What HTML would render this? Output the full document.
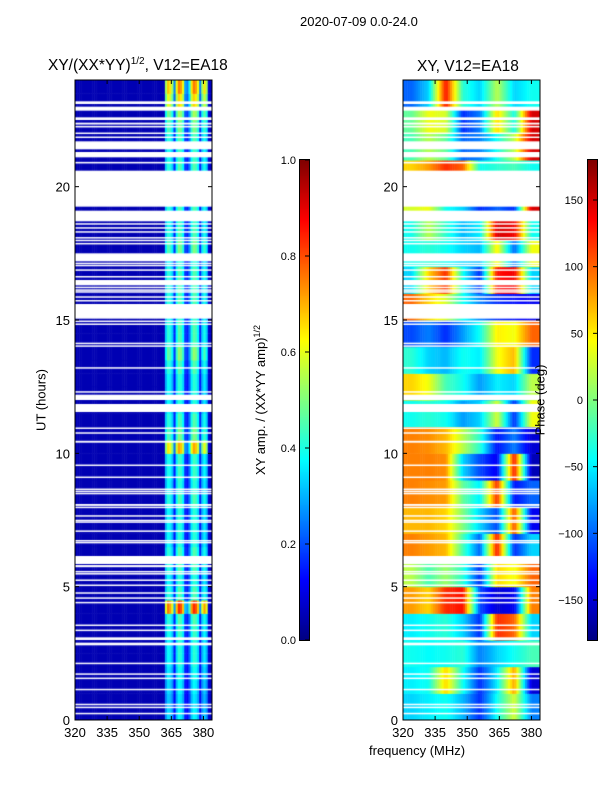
<!DOCTYPE html>
<html><head><meta charset="utf-8">
<style>
body{margin:0;background:#fff;width:600px;height:800px;overflow:hidden;position:relative;font-family:"Liberation Sans",sans-serif;color:#000}
.abs{position:absolute}
canvas{position:absolute}
</style></head><body>
<div class="abs" style="left:300px;top:14px;font-size:13px">2020-07-09 0.0-24.0</div>
<div class="abs" style="left:48px;top:56px;font-size:15.5px">XY/(XX*YY)<sup style="font-size:10px">1/2</sup>, V12=EA18</div>
<div class="abs" style="left:417px;top:58px;font-size:15.5px">XY, V12=EA18</div>
<canvas id="amp" width="137" height="640" style="left:75px;top:80px"></canvas>
<canvas id="ph" width="137" height="640" style="left:403px;top:80px"></canvas>
<canvas id="cb1" width="9" height="480" style="left:300px;top:160px;outline:1px solid #000"></canvas>
<canvas id="cb2" width="9" height="480" style="left:588px;top:160px;outline:1px solid #000"></canvas>
<svg id="ov" width="600" height="800" style="position:absolute;left:0;top:0"></svg>
<div class="abs" style="left:41px;top:400px;transform:translate(-50%,-50%) rotate(-90deg);font-size:13px;white-space:nowrap">UT (hours)</div>
<div class="abs" style="left:260px;top:400px;transform:translate(-50%,-50%) rotate(-90deg);font-size:13px;white-space:nowrap">XY amp. / (XX*YY amp)<sup style="font-size:9px">1/2</sup></div>
<div class="abs" style="left:540px;top:400px;transform:translate(-50%,-50%) rotate(-90deg);font-size:13px;white-space:nowrap">Phase (deg)</div>
<div class="abs" style="left:369px;top:743px;font-size:13px">frequency (MHz)</div>
<script>
// ---- data ----
const freqTicks=[320,335,350,365,380];
const timeTicks=[0,5,10,15,20];
const ampTicks=[0.0,0.2,0.4,0.6,0.8,1.0];
const phaseTicks=[-150,-100,-50,0,50,100,150];
// amplitude channel profile, 1 MHz channels 320..383
const ampProfile=[0.05,0.05,0.05,0.05,0.05,0.05,0.05,0.05,0.05,0.05,0.05,0.05,0.05,0.05,0.05,0.05,
0.05,0.05,0.05,0.05,0.05,0.05,0.05,0.05,0.05,0.05,0.05,0.05,0.05,0.05,0.05,0.05,
0.05,0.05,0.05,0.05,0.05,0.05,0.05,0.05,0.05,0.05,0.30,0.38,0.36,0.30,0.14,0.34,0.42,0.40,
0.34,0.16,0.14,0.22,0.36,0.42,0.40,0.34,0.14,0.30,0.36,0.30,0.08,0.06];
// half-hour gain, index 0 = 0.0-0.5 h
const ampGain=[0.9,0.85,0.9,0.95,1.0,1.0,1.05,1.1,2.0,1.1,1.0,1.1,1.1,1.0,1.0,1.0,1.1,1.0,1.05,1.05,1.7,1.2,1.1,1.0,
1.0,1.0,1.1,1.25,1.1,1.1,1.05,1.1,1.1,1.1,1.0,1.2,1.1,1.05,1.1,1.0,1.1,1.1,1.05,1.1,1.2,1.3,1.6,1.8];
// phase (deg): rows = hours 0..23, cols = 8 MHz blocks centred 324..380
const phaseGrid=[
[-60,-50,-40,-70,-120,-40,30,-90],
[-50,-40,60,-40,-120,-50,80,-150],
[-40,-45,-40,-30,-90,-60,-40,-20],
[-50,-40,-30,-60,-120,120,100,-60],
[80,60,120,130,-110,-150,-140,90],
[20,-20,10,-30,-120,60,40,100],
[90,80,70,-20,-100,130,-120,-60],
[70,70,60,0,-60,-110,110,-140],
[90,85,80,-10,-50,120,-130,-100],
[90,90,85,-60,-110,-140,130,-160],
[90,85,70,20,-30,-130,-90,-150],
[-40,-30,-40,-80,-60,30,-120,40],
[60,40,-20,-40,-80,-50,-60,20],
[-30,-60,-70,-40,-50,40,70,-120],
[-110,-90,-120,-80,-40,50,40,100],
[100,60,30,-40,-90,-120,-130,-140],
[-60,60,120,-40,-120,130,140,-60],
[-40,-30,-40,-60,-70,50,-100,40],
[-40,20,-30,-70,-50,150,140,-40],
[30,40,-40,-60,-120,-100,-120,150],
[60,80,120,100,-40,-30,-20,-40],
[-20,20,-10,-100,-90,-40,20,150],
[-10,40,30,-120,-90,60,-40,150],
[-100,-60,130,-30,-60,20,-60,-40]];
// flagged (blank) time ranges, hours
const flags=[[23.1,23.2],[22.85,23.0],[22.5,22.6],[22.33,22.4],[22.22,22.28],[21.98,22.03],[21.83,21.88],[21.4,21.7],[21.1,21.3],[20.87,20.93],[19.25,20.6],[18.7,19.1],[18.58,18.63],[18.43,18.48],[18.28,18.33],[18.06,18.11],[17.96,18.01],[17.84,17.89],[17.2,17.5],[17.1,17.15],[17.02,17.07],[16.85,16.9],[16.6,16.65],[16.3,16.5],[16.2,16.25],[16.1,16.15],[16.03,16.08],[15.84,15.89],[15.7,15.75],[15.05,15.6],[14.93,14.98],[14.82,14.87],[14.1,14.15],[14.0,14.05],[13.18,13.23],[12.28,12.33],[12.0,12.2],[11.55,11.85],[10.92,10.97],[10.74,10.79],[10.4,10.47],[9.53,9.58],[9.08,9.13],[8.63,8.68],[8.55,8.6],[8.47,8.52],[8.03,8.1],[7.95,8.0],[7.63,7.68],[7.46,7.51],[7.4,7.45],[7.06,7.11],[6.7,6.75],[6.63,6.68],[5.85,6.15],[5.73,5.81],[5.54,5.59],[5.46,5.51],[5.22,5.27],[5.03,5.08],[4.74,4.79],[4.55,4.6],[4.38,4.43],[3.53,3.58],[3.34,3.39],[3.0,3.1],[2.8,2.9],[2.1,2.15],[1.7,1.75],[1.54,1.59],[1.12,1.17],[0.56,0.61],[0.45,0.5],[0.22,0.27]];

// ---- scales ----
const F0=320,F1=384,T0=0,T1=24,PW=137,PH=640;
const fx=f=>(f-F0)/(F1-F0)*PW;
const ty=t=>PH-(t-T0)/(T1-T0)*PH;
function jet(v){v=Math.max(0,Math.min(1,v));const c=x=>Math.round(255*Math.max(0,Math.min(1,x)));
return 'rgb('+c(1.5-Math.abs(4*v-3))+','+c(1.5-Math.abs(4*v-2))+','+c(1.5-Math.abs(4*v-1))+')';}

// amplitude heatmap
(function(){const g=document.getElementById('amp').getContext('2d');
for(let r=0;r<ampGain.length;r++){const t0=r*0.5,t1=t0+0.5;
 for(let c=0;c<ampProfile.length;c++){const f=F0+c;
  let v=ampProfile[c]>0.1?ampProfile[c]*ampGain[r]:ampProfile[c];
  g.fillStyle=jet(v);g.fillRect(fx(f),ty(t1),fx(f+1)-fx(f)+0.5,ty(t0)-ty(t1)+0.5);}}
flags.forEach(([a,b])=>{g.fillStyle='#fff';g.fillRect(0,ty(b),PW,Math.max(1.5,ty(a)-ty(b)));});})();

// phase heatmap (linear interpolation across frequency between block centres)
(function(){const g=document.getElementById('ph').getContext('2d');
for(let r=0;r<phaseGrid.length;r++){const row=phaseGrid[r];
 for(let f=F0;f<F1;f++){const p=(f+0.5-F0-4)/8;const i=Math.max(0,Math.min(row.length-1,Math.floor(p)));
  const j=Math.min(row.length-1,i+1);const w=Math.max(0,Math.min(1,p-i));
  const v=row[i]*(1-w)+row[j]*w;
  g.fillStyle=jet((v+180)/360);
  g.fillRect(fx(f),ty(r+1),fx(f+1)-fx(f)+0.5,ty(r)-ty(r+1)+0.5);}}
flags.forEach(([a,b])=>{g.fillStyle='#fff';g.fillRect(0,ty(b),PW,Math.max(1.5,ty(a)-ty(b)));});})();

// colorbars
['cb1','cb2'].forEach(id=>{const g=document.getElementById(id).getContext('2d');
for(let y=0;y<480;y++){g.fillStyle=jet(1-y/480);g.fillRect(0,y,9,1);}});

// axes overlay
const NS='http://www.w3.org/2000/svg',ov=document.getElementById('ov');
function el(tag,a){const e=document.createElementNS(NS,tag);for(const k in a)e.setAttribute(k,a[k]);ov.appendChild(e);return e;}
[75,403].forEach((X,pi)=>{
 const fr=el('rect',{x:X,y:80,width:PW,height:PH,fill:'none',stroke:'#000','stroke-width':1});
 
 
 timeTicks.forEach(t=>{const y=80+ty(t);
  el('line',{x1:X,x2:X+4,y1:y,y2:y,stroke:'#000'});el('line',{x1:X+PW-4,x2:X+PW,y1:y,y2:y,stroke:'#000'});
  const tx=el('text',{x:X-5,y:y+5,'text-anchor':'end','font-size':13,'font-family':'Liberation Sans'});tx.textContent=t;
  
  });
 freqTicks.forEach(f=>{const x=X+fx(f);
  el('line',{x1:x,x2:x,y1:80,y2:84,stroke:'#000'});el('line',{x1:x,x2:x,y1:716,y2:720,stroke:'#000'});
  const tx=el('text',{x:x,y:737,'text-anchor':'middle','font-size':13,'font-family':'Liberation Sans'});tx.textContent=f;
  
  });
});
ampTicks.forEach(v=>{const y=640-v*480;el('line',{x1:305,x2:309,y1:y,y2:y,stroke:'#000'});
 const tx=el('text',{x:296,y:y+4,'text-anchor':'end','font-size':11,'font-family':'Liberation Sans'});tx.textContent=v.toFixed(1);
 
 });
phaseTicks.forEach(v=>{const y=640-(v+180)/360*480;el('line',{x1:593,x2:597,y1:y,y2:y,stroke:'#000'});
 const tx=el('text',{x:583,y:y+4,'text-anchor':'end','font-size':11,'font-family':'Liberation Sans'});tx.textContent=v<0?'\u2212'+(-v):v;
 
 });
</script>
</body></html>
